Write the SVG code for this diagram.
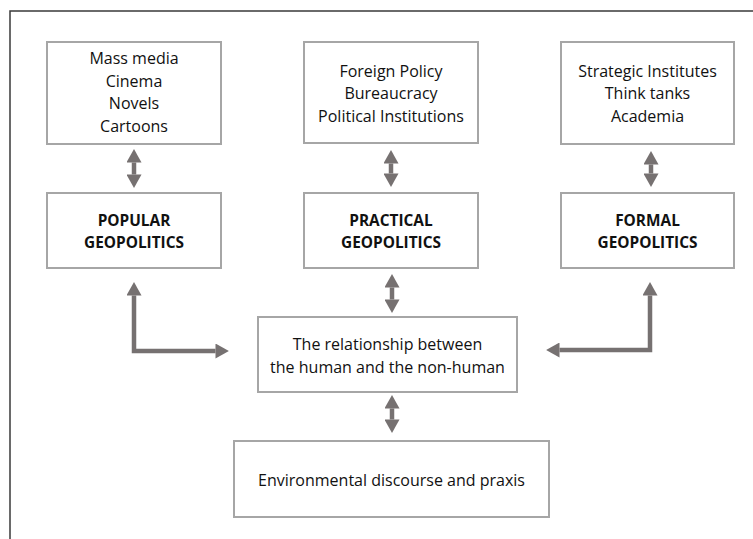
<svg xmlns="http://www.w3.org/2000/svg" width="753" height="539" viewBox="0 0 753 539">
<style>
.frame{fill:none;stroke:#3a3a3a;stroke-width:1.5}
.box{fill:#fff;stroke:#a6a6a6;stroke-width:2}
.t{font-family:"Open Sans","Noto Sans","Liberation Sans",sans-serif;font-size:16px;fill:#111;text-anchor:middle}
.b{font-weight:bold;font-size:15.4px}
.arr{fill:none;stroke:#767171;stroke-width:4.5;stroke-linejoin:miter;marker-start:url(#ah);marker-end:url(#ah)}
</style>
<defs>
<marker id="ah" markerUnits="userSpaceOnUse" markerWidth="14" markerHeight="15" refX="0" refY="7" orient="auto-start-reverse" viewBox="0 0 13 14">
<path d="M0,0 L12.5,7 L0,14 z" fill="#767171"/>
</marker>
</defs>
<rect width="753" height="539" fill="#fff"/>
<path class="frame" d="M10,539 V11 H753"/>
<g id="media">
<rect class="box" x="47" y="42" width="174" height="102"/>
<text class="t" x="134" y="64">Mass media</text>
<text class="t" x="134" y="87">Cinema</text>
<text class="t" x="134" y="109">Novels</text>
<text class="t" x="134" y="132">Cartoons</text>
</g>
<g id="policy">
<rect class="box" x="304" y="42" width="174" height="101"/>
<text class="t" x="391" y="77">Foreign Policy</text>
<text class="t" x="391" y="99">Bureaucracy</text>
<text class="t" x="391" y="122">Political Institutions</text>
</g>
<g id="institutes">
<rect class="box" x="561" y="42" width="173" height="102"/>
<text class="t" x="647.5" y="77">Strategic Institutes</text>
<text class="t" x="647.5" y="99">Think tanks</text>
<text class="t" x="647.5" y="122">Academia</text>
</g>
<g id="popular">
<rect class="box" x="47" y="193" width="174" height="75"/>
<text class="t b" x="134" y="226">POPULAR</text>
<text class="t b" x="134" y="248">GEOPOLITICS</text>
</g>
<g id="practical">
<rect class="box" x="304" y="193" width="174" height="75"/>
<text class="t b" x="391" y="226">PRACTICAL</text>
<text class="t b" x="391" y="248">GEOPOLITICS</text>
</g>
<g id="formal">
<rect class="box" x="561" y="193" width="173" height="75"/>
<text class="t b" x="647.5" y="226">FORMAL</text>
<text class="t b" x="647.5" y="248">GEOPOLITICS</text>
</g>
<g id="relationship">
<rect class="box" x="258" y="317" width="259" height="75"/>
<text class="t" x="387.5" y="350">The relationship between</text>
<text class="t" x="387.5" y="373">the human and the non-human</text>
</g>
<g id="environmental">
<rect class="box" x="234" y="441" width="315" height="76"/>
<text class="t" x="391.5" y="486">Environmental discourse and praxis</text>
</g>
<g id="connectors">
<path class="arr" d="M134,162.5 V174.5"/>
<path class="arr" d="M391,163.5 V173.5"/>
<path class="arr" d="M651,164.5 V173.5"/>
<path class="arr" d="M392,287.5 V299.5"/>
<path class="arr" d="M392,408.5 V419.5"/>
<path class="arr" d="M134,295.5 V351 H215.5"/>
<path class="arr" d="M650,295.5 V350 H559.5"/>
</g>
</svg>
